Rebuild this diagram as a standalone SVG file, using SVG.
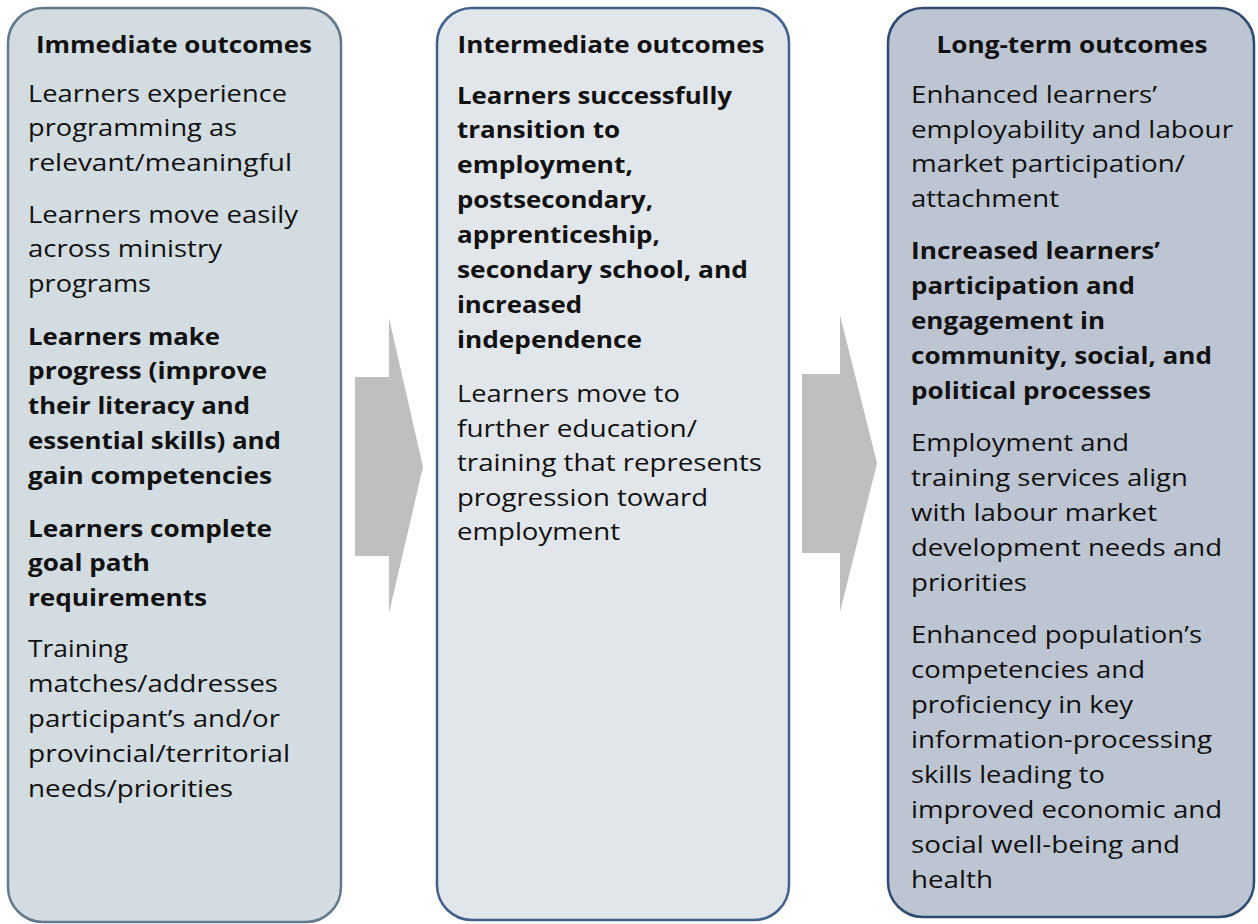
<svg xmlns="http://www.w3.org/2000/svg" width="1258" height="924" viewBox="0 0 1258 924">
<style>
  text { font-family: "Open Sans", Lato, "DejaVu Sans", sans-serif; font-size: 24px; fill: #111; }
  .b { font-weight: bold; }
  .h { font-weight: bold; text-anchor: middle; }
  .box { stroke-width: 2.5; }
  .arrow { fill: #bfbfbf; stroke: none; }
</style>
<rect width="1258" height="924" fill="#ffffff"/>
<g id="connectors">
  <polygon class="arrow" points="355,377 389,377 389,318 423,467 389,613 389,556 355,556"/>
  <polygon class="arrow" points="802,374 840,374 840,315 877,463 840,612 840,553 802,553"/>
</g>
<g id="immediate">
  <rect class="box" x="8" y="8" width="333" height="914" rx="35" fill="#d3dce0" stroke="#62798b"/>
  <text class="h" x="174" y="53" textLength="276" lengthAdjust="spacingAndGlyphs">Immediate outcomes</text>
  <text x="28" y="102" textLength="259" lengthAdjust="spacingAndGlyphs">Learners experience</text>
  <text x="28" y="136" textLength="209" lengthAdjust="spacingAndGlyphs">programming as</text>
  <text x="28" y="171" textLength="264" lengthAdjust="spacingAndGlyphs">relevant/meaningful</text>
  <text x="28" y="223" textLength="270" lengthAdjust="spacingAndGlyphs">Learners move easily</text>
  <text x="28" y="257" textLength="194" lengthAdjust="spacingAndGlyphs">across ministry</text>
  <text x="28" y="292" textLength="123" lengthAdjust="spacingAndGlyphs">programs</text>
  <text class="b" x="28" y="345" textLength="192" lengthAdjust="spacingAndGlyphs">Learners make</text>
  <text class="b" x="28" y="379" textLength="239" lengthAdjust="spacingAndGlyphs">progress (improve</text>
  <text class="b" x="28" y="414" textLength="222" lengthAdjust="spacingAndGlyphs">their literacy and</text>
  <text class="b" x="28" y="449" textLength="253" lengthAdjust="spacingAndGlyphs">essential skills) and</text>
  <text class="b" x="28" y="484" textLength="244" lengthAdjust="spacingAndGlyphs">gain competencies</text>
  <text class="b" x="28" y="537" textLength="244" lengthAdjust="spacingAndGlyphs">Learners complete</text>
  <text class="b" x="28" y="571" textLength="122" lengthAdjust="spacingAndGlyphs">goal path</text>
  <text class="b" x="28" y="606" textLength="179" lengthAdjust="spacingAndGlyphs">requirements</text>
  <text x="28" y="657" textLength="100" lengthAdjust="spacingAndGlyphs">Training</text>
  <text x="28" y="692" textLength="250" lengthAdjust="spacingAndGlyphs">matches/addresses</text>
  <text x="28" y="727" textLength="252" lengthAdjust="spacingAndGlyphs">participant’s and/or</text>
  <text x="28" y="762" textLength="262" lengthAdjust="spacingAndGlyphs">provincial/territorial</text>
  <text x="28" y="797" textLength="205" lengthAdjust="spacingAndGlyphs">needs/priorities</text>
</g>
<g id="intermediate">
  <rect class="box" x="437" y="8" width="352" height="912" rx="35" fill="#e1e6ea" stroke="#41618a"/>
  <text class="h" x="611" y="53" textLength="307" lengthAdjust="spacingAndGlyphs">Intermediate outcomes</text>
  <text class="b" x="457" y="104" textLength="275" lengthAdjust="spacingAndGlyphs">Learners successfully</text>
  <text class="b" x="457" y="138" textLength="163" lengthAdjust="spacingAndGlyphs">transition to</text>
  <text class="b" x="457" y="173" textLength="176" lengthAdjust="spacingAndGlyphs">employment,</text>
  <text class="b" x="457" y="208" textLength="196" lengthAdjust="spacingAndGlyphs">postsecondary,</text>
  <text class="b" x="457" y="243" textLength="203" lengthAdjust="spacingAndGlyphs">apprenticeship,</text>
  <text class="b" x="457" y="278" textLength="291" lengthAdjust="spacingAndGlyphs">secondary school, and</text>
  <text class="b" x="457" y="313" textLength="125" lengthAdjust="spacingAndGlyphs">increased</text>
  <text class="b" x="457" y="348" textLength="185" lengthAdjust="spacingAndGlyphs">independence</text>
  <text x="457" y="402" textLength="223" lengthAdjust="spacingAndGlyphs">Learners move to</text>
  <text x="457" y="437" textLength="240" lengthAdjust="spacingAndGlyphs">further education/</text>
  <text x="457" y="471" textLength="305" lengthAdjust="spacingAndGlyphs">training that represents</text>
  <text x="457" y="506" textLength="251" lengthAdjust="spacingAndGlyphs">progression toward</text>
  <text x="457" y="540" textLength="163" lengthAdjust="spacingAndGlyphs">employment</text>
</g>
<g id="longterm">
  <rect class="box" x="888" y="8" width="366" height="909" rx="35" fill="#bec5d2" stroke="#2f4a72"/>
  <text class="h" x="1072" y="53" textLength="271" lengthAdjust="spacingAndGlyphs">Long-term outcomes</text>
  <text x="911" y="103" textLength="246" lengthAdjust="spacingAndGlyphs">Enhanced learners’</text>
  <text x="911" y="138" textLength="322" lengthAdjust="spacingAndGlyphs">employability and labour</text>
  <text x="911" y="172" textLength="274" lengthAdjust="spacingAndGlyphs">market participation/</text>
  <text x="911" y="207" textLength="148" lengthAdjust="spacingAndGlyphs">attachment</text>
  <text class="b" x="911" y="259" textLength="249" lengthAdjust="spacingAndGlyphs">Increased learners’</text>
  <text class="b" x="911" y="294" textLength="224" lengthAdjust="spacingAndGlyphs">participation and</text>
  <text class="b" x="911" y="329" textLength="194" lengthAdjust="spacingAndGlyphs">engagement in</text>
  <text class="b" x="911" y="364" textLength="301" lengthAdjust="spacingAndGlyphs">community, social, and</text>
  <text class="b" x="911" y="399" textLength="240" lengthAdjust="spacingAndGlyphs">political processes</text>
  <text x="911" y="451" textLength="218" lengthAdjust="spacingAndGlyphs">Employment and</text>
  <text x="911" y="486" textLength="277" lengthAdjust="spacingAndGlyphs">training services align</text>
  <text x="911" y="521" textLength="246" lengthAdjust="spacingAndGlyphs">with labour market</text>
  <text x="911" y="556" textLength="311" lengthAdjust="spacingAndGlyphs">development needs and</text>
  <text x="911" y="591" textLength="116" lengthAdjust="spacingAndGlyphs">priorities</text>
  <text x="911" y="643" textLength="291" lengthAdjust="spacingAndGlyphs">Enhanced population’s</text>
  <text x="911" y="678" textLength="234" lengthAdjust="spacingAndGlyphs">competencies and</text>
  <text x="911" y="713" textLength="222" lengthAdjust="spacingAndGlyphs">proficiency in key</text>
  <text x="911" y="748" textLength="301" lengthAdjust="spacingAndGlyphs">information-processing</text>
  <text x="911" y="783" textLength="194" lengthAdjust="spacingAndGlyphs">skills leading to</text>
  <text x="911" y="818" textLength="311" lengthAdjust="spacingAndGlyphs">improved economic and</text>
  <text x="911" y="853" textLength="269" lengthAdjust="spacingAndGlyphs">social well-being and</text>
  <text x="911" y="888" textLength="82" lengthAdjust="spacingAndGlyphs">health</text>
</g>
</svg>
